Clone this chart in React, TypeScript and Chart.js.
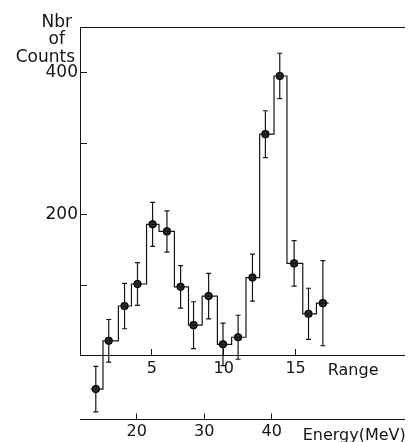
import React, { useEffect, useRef } from 'react';
import { Chart, registerables } from 'chart.js';

Chart.register(...registerables);

// ---- data ----
const rangeValues = [1.1, 2.0, 3.1, 4.0, 5.05, 6.05, 7.0, 7.9, 8.95, 9.95, 11.0, 12.0, 12.9, 13.9, 14.9, 15.9, 16.9];
const counts = [-46, 22, 71, 102, 186, 176, 98, 44, 85, 17, 27, 111, 313, 395, 131, 60, 75];
const errors = [32, 30, 32, 30, 31, 29, 30, 33, 32, 30, 31, 33, 33, 32, 32, 36, 60];
const binEdges = [0.75, 1.6, 2.67, 3.58, 4.63, 5.5, 6.57, 7.55, 8.5, 9.56, 10.55, 11.55, 12.5, 13.5, 14.4, 15.5, 16.45, 17.3];

const rangeTicks = [5, 10, 15];
const rangeTickLabels = ['5', '10', '15'];
const countTicks = [100, 200, 300, 400];
const countTickLabels = ['', '200', '', '400'];
const energyTicks = [20, 30, 40];
const energyTickLabels = ['20', '30', '40'];

const yTitleLines = ['Nbr', 'of', 'Counts'];
const rangeTitle = 'Range';
const energyTitle = 'Energy(MeV)';

const INK = '#151515';
const FONT = 'DejaVu Sans';

const errorBarPlugin = {
  id: 'errorBars',
  beforeDatasetsDraw(chart: any) {
    const { ctx } = chart;
    const xs = chart.scales.x;
    const ys = chart.scales.y;
    ctx.save();
    ctx.strokeStyle = INK;
    ctx.lineWidth = 1.2;
    counts.forEach((c, i) => {
      const px = xs.getPixelForValue(rangeValues[i]);
      const top = ys.getPixelForValue(c + errors[i]);
      const bot = ys.getPixelForValue(c - errors[i]);
      ctx.beginPath();
      ctx.moveTo(px, top);
      ctx.lineTo(px, bot);
      ctx.moveTo(px - 2.5, top);
      ctx.lineTo(px + 2.5, top);
      ctx.moveTo(px - 2.5, bot);
      ctx.lineTo(px + 2.5, bot);
      ctx.stroke();
    });
    ctx.restore();
  },
  afterDatasetsDraw(chart: any) {
    // Chart.js skips point markers that fall outside the chart area; draw those here.
    const meta = chart.getDatasetMeta(1);
    const area = chart.chartArea;
    const full = { left: 0, top: 0, right: chart.width, bottom: chart.height };
    meta.data.forEach((el: any) => {
      if (el.y > area.bottom || el.y < area.top) el.draw(chart.ctx, full);
    });
  },
};

const titlesPlugin = {
  id: 'titles',
  afterDraw(chart: any) {
    const { ctx } = chart;
    const xs = chart.scales.x;
    const xe = chart.scales.xE;
    ctx.save();
    ctx.fillStyle = INK;
    ctx.textBaseline = 'alphabetic';
    ctx.font = `17px "${FONT}"`;
    ctx.textAlign = 'right';
    const ys = chart.scales.y;
    const ax = ys.right;
    ctx.fillText(yTitleLines[0], ax - 8, 27);
    ctx.fillText(yTitleLines[1], ax - 15, 44);
    ctx.fillText(yTitleLines[2], ax - 5, 62);
    ctx.font = `16px "${FONT}"`;
    ctx.textAlign = 'left';
    ctx.fillText(rangeTitle, xs.right - 77, xs.top + 19.5);
    ctx.textAlign = 'right';
    ctx.fillText(energyTitle, xe.right + 1, xe.top + 20.5);
    ctx.restore();
  },
};

export default function App() {
  const ref = useRef<HTMLCanvasElement>(null);

  useEffect(() => {
    Chart.defaults.font.family = FONT;
    const stepData = binEdges.map((e, i) => ({ x: e, y: counts[Math.min(i, counts.length - 1)] }));
    const pointData = rangeValues.map((r, i) => ({ x: r, y: counts[i] }));

    const chart = new Chart(ref.current as HTMLCanvasElement, {
      type: 'line',
      data: {
        datasets: [
          {
            xAxisID: 'x',
            yAxisID: 'y',
            data: stepData,
            stepped: 'before',
            borderColor: INK,
            borderWidth: 1.2,
            pointRadius: 0,
            fill: false,
            clip: false,
          } as any,
          {
            xAxisID: 'x',
            yAxisID: 'y',
            data: pointData,
            showLine: false,
            pointRadius: 3.5,
            pointBackgroundColor: '#2a2a2a',
            pointBorderColor: '#000',
            pointBorderWidth: 1.2,
            clip: false,
          } as any,
        ],
      },
      options: {
        animation: false,
        responsive: false,
        devicePixelRatio: 1,
        layout: { padding: 0 },
        plugins: { legend: { display: false }, tooltip: { enabled: false } },
        scales: {
          x: {
            type: 'linear',
            position: 'bottom',
            weight: 1,
            bounds: 'data',
            min: 0,
            max: 22.6,
            afterBuildTicks: (s: any) => { s.ticks = rangeTicks.map((v) => ({ value: v })); },
            afterFit: (s: any) => { s.height = 64.5; },
            grid: { drawOnChartArea: false, drawTicks: true, tickLength: -6, color: INK, lineWidth: 1 },
            border: { display: true, color: INK, width: 1 },
            ticks: {
              autoSkip: false,
              maxRotation: 0,
              minRotation: 0,
              padding: 10,
              color: INK,
              font: { family: FONT, size: 16 },
              callback: (v: any) => rangeTickLabels[rangeTicks.indexOf(v)] ?? '',
            },
          },
          xE: {
            type: 'linear',
            position: 'bottom',
            weight: 2,
            bounds: 'data',
            min: 11.6,
            max: 59.7,
            afterBuildTicks: (s: any) => { s.ticks = energyTicks.map((v) => ({ value: v })); },
            afterFit: (s: any) => { s.height = 22.5; },
            grid: { drawOnChartArea: false, drawTicks: true, tickLength: -6, color: INK, lineWidth: 1 },
            border: { display: true, color: INK, width: 1 },
            ticks: {
              autoSkip: false,
              maxRotation: 0,
              minRotation: 0,
              padding: 9,
              color: INK,
              font: { family: FONT, size: 16 },
              callback: (v: any) => energyTickLabels[energyTicks.indexOf(v)] ?? '',
            },
          },
          xTop: {
            type: 'linear',
            position: 'top',
            min: 0,
            max: 1,
            afterBuildTicks: (s: any) => { s.ticks = []; },
            afterFit: (s: any) => { s.height = 27; },
            grid: { display: false },
            ticks: { display: false },
            border: { display: true, color: INK, width: 1 },
          },
          y: {
            type: 'linear',
            position: 'left',
            bounds: 'data',
            min: 2,
            max: 464,
            afterBuildTicks: (s: any) => { s.ticks = countTicks.map((v) => ({ value: v })); },
            afterFit: (s: any) => { s.width = 80; },
            grid: { drawOnChartArea: false, drawTicks: true, tickLength: -7, color: INK, lineWidth: 1 },
            border: { display: true, color: INK, width: 1 },
            ticks: {
              autoSkip: false,
              padding: 9,
              color: INK,
              font: { family: FONT, size: 17 },
              callback: (v: any) => countTickLabels[countTicks.indexOf(v)] ?? '',
            },
          },
        },
      } as any,
      plugins: [errorBarPlugin, titlesPlugin],
    });
    return () => chart.destroy();
  }, []);

  return (
    <div style={{ position: 'absolute', left: 0, top: 0, width: 410, height: 442, background: '#fff' }}>
      <canvas ref={ref} width={410} height={442} style={{ display: 'block', width: 410, height: 442 }} />
    </div>
  );
}
